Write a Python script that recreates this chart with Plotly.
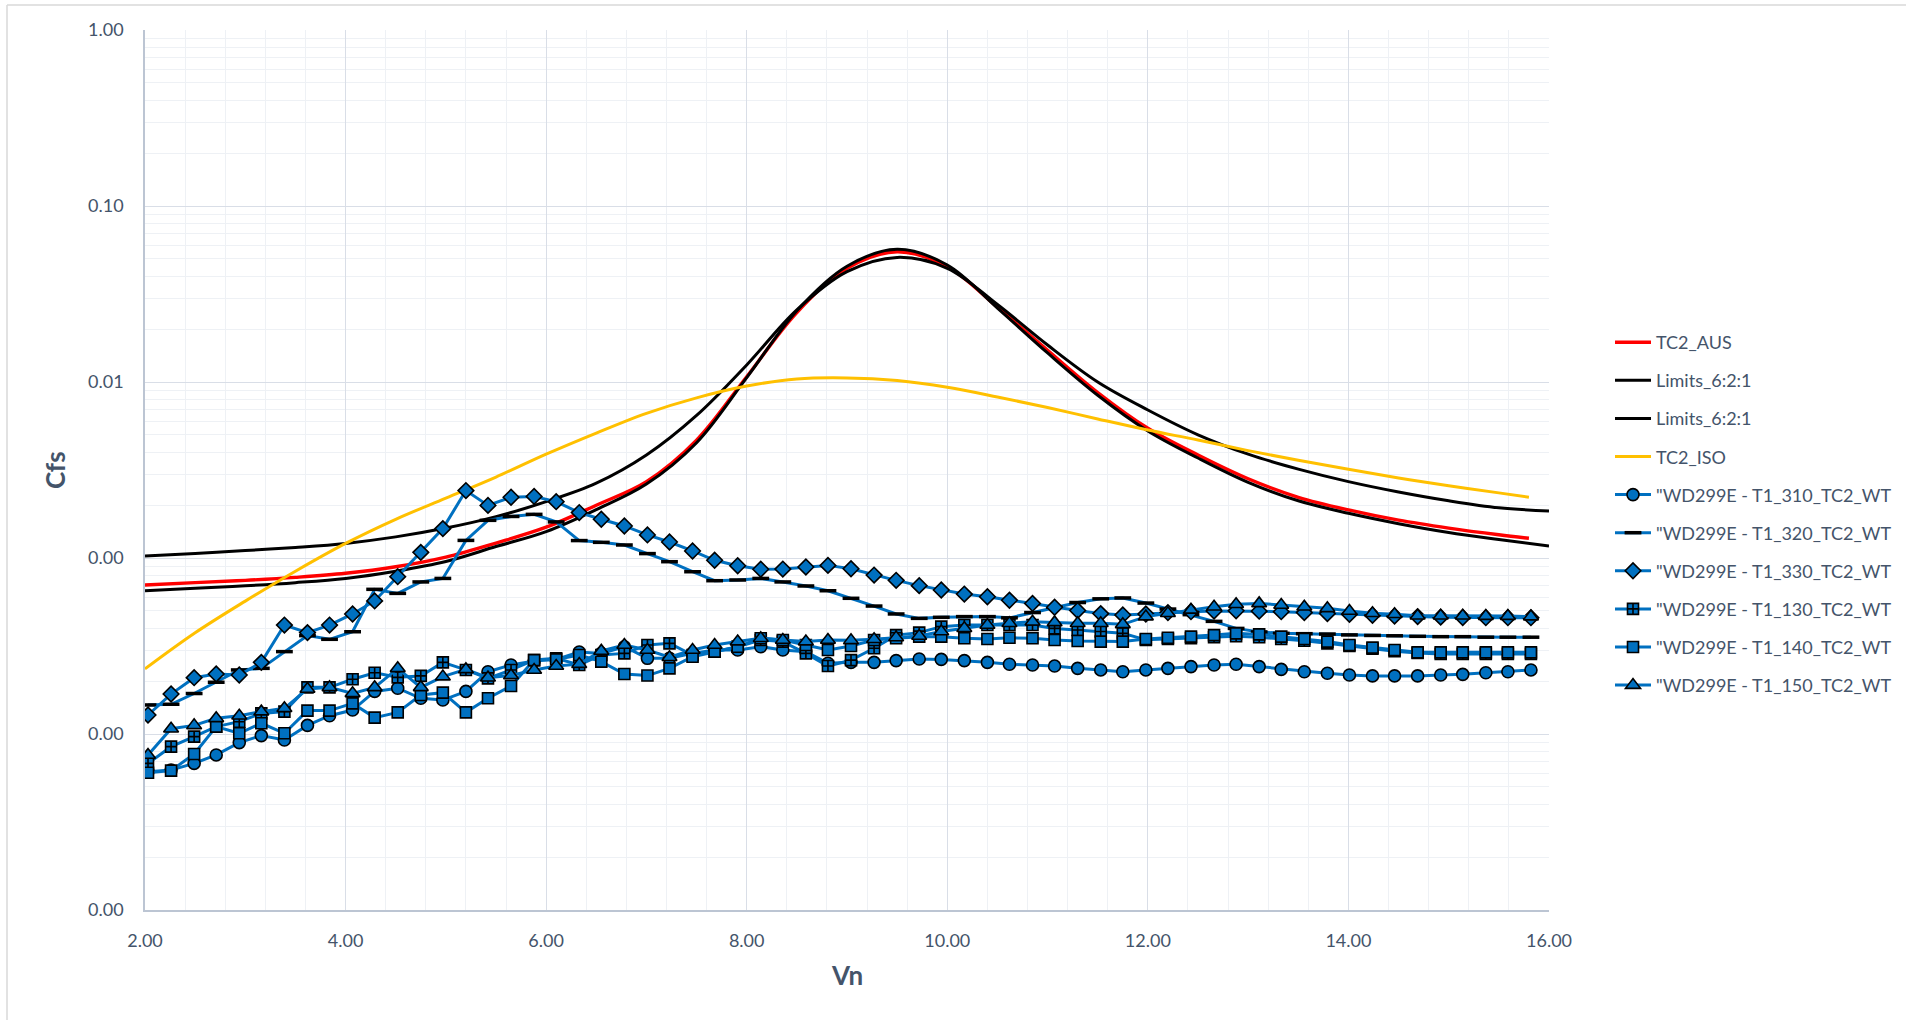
import plotly.graph_objects as go

# ---------------- data (Cfs given as log10) ----------------
curve_vn = [2.0, 2.5, 3.0, 3.5, 4.0, 4.5, 5.0, 5.5, 6.0, 6.5, 7.0, 7.5, 8.0, 8.5, 9.0,
            9.5, 10.0, 10.5, 11.0, 11.5, 12.0, 12.5, 13.0, 13.5, 14.0, 14.5, 15.0, 15.5, 15.8]
limits_vn = [2.0, 2.5, 3.0, 3.5, 4.0, 4.5, 5.0, 5.5, 6.0, 6.5, 7.0, 7.5, 8.0, 8.5, 9.0,
             9.5, 10.0, 10.5, 11.0, 11.5, 12.0, 12.5, 13.0, 13.5, 14.0, 14.5, 15.0, 15.5, 16.0]

tc2_aus_log = [-3.153, -3.14, -3.127, -3.11, -3.087, -3.05, -2.995, -2.915, -2.825, -2.70,
               -2.566, -2.33, -1.970, -1.605, -1.354, -1.260, -1.345, -1.575, -1.82, -2.06,
               -2.263, -2.415, -2.55, -2.655, -2.727, -2.785, -2.83, -2.868, -2.888]
limits_a_log = [-2.989, -2.975, -2.958, -2.94, -2.917, -2.88, -2.83, -2.765, -2.68, -2.575,
                -2.415, -2.19, -1.903, -1.59, -1.373, -1.292, -1.354, -1.56, -1.79, -2.00,
                -2.159, -2.30, -2.41, -2.495, -2.566, -2.625, -2.675, -2.715, -2.733]
limits_b_log = [-3.186, -3.172, -3.158, -3.14, -3.116, -3.075, -3.02, -2.935, -2.85, -2.725,
                -2.58, -2.345, -1.975, -1.595, -1.342, -1.246, -1.335, -1.58, -1.835, -2.075,
                -2.278, -2.432, -2.57, -2.675, -2.746, -2.805, -2.855, -2.895, -2.932]
tc2_iso_log = [-3.630, -3.425, -3.245, -3.075, -2.917, -2.78, -2.66, -2.54, -2.41, -2.29,
               -2.178, -2.09, -2.023, -1.983, -1.977, -1.992, -2.030, -2.085, -2.145, -2.21,
               -2.273, -2.33, -2.39, -2.445, -2.496, -2.545, -2.59, -2.63, -2.655]

wt_vn = [2.03, 2.26, 2.49, 2.71, 2.94, 3.16, 3.39, 3.62, 3.84, 4.07, 4.29, 4.52, 4.75, 4.97,
         5.20, 5.42, 5.65, 5.88, 6.10, 6.33, 6.55, 6.78, 7.01, 7.23, 7.46, 7.68, 7.91, 8.14,
         8.36, 8.59, 8.81, 9.04, 9.27, 9.49, 9.72, 9.94, 10.17, 10.40, 10.62, 10.85, 11.07,
         11.30, 11.53, 11.75, 11.98, 12.20, 12.43, 12.66, 12.88, 13.11, 13.33, 13.56, 13.79,
         14.01, 14.24, 14.46, 14.69, 14.92, 15.14, 15.37, 15.59, 15.82]

wt_310_log = [-4.214, -4.205, -4.167, -4.119, -4.049, -4.009, -4.034, -3.951, -3.896, -3.864,
              -3.758, -3.74, -3.797, -3.807, -3.758, -3.646, -3.608, -3.585, -3.576, -3.534,
              -3.542, -3.504, -3.570, -3.570, -3.542, -3.523, -3.523, -3.504, -3.523, -3.532,
              -3.598, -3.593, -3.593, -3.583, -3.574, -3.576, -3.583, -3.593, -3.604, -3.608,
              -3.614, -3.627, -3.636, -3.646, -3.636, -3.627, -3.617, -3.608, -3.604, -3.617,
              -3.633, -3.646, -3.655, -3.665, -3.670, -3.670, -3.670, -3.665, -3.661, -3.652,
              -3.646, -3.636]
wt_320_log = [-3.835, -3.831, -3.770, -3.706, -3.636, -3.627, -3.532, -3.441, -3.462, -3.419,
              -3.178, -3.201, -3.136, -3.116, -2.900, -2.786, -2.764, -2.752, -2.795, -2.901,
              -2.911, -2.926, -2.975, -3.021, -3.078, -3.129, -3.125, -3.116, -3.136, -3.159,
              -3.186, -3.229, -3.273, -3.318, -3.343, -3.337, -3.333, -3.333, -3.34, -3.31,
              -3.28, -3.253, -3.232, -3.227, -3.256, -3.29, -3.322, -3.36, -3.40, -3.42,
              -3.428, -3.43, -3.432, -3.437, -3.44, -3.442, -3.445, -3.447, -3.447, -3.45,
              -3.45, -3.45]
wt_330_log = [-3.892, -3.773, -3.680, -3.659, -3.665, -3.593, -3.381, -3.424, -3.381, -3.318,
              -3.244, -3.106, -2.968, -2.833, -2.617, -2.701, -2.655, -2.650, -2.680, -2.742,
              -2.780, -2.818, -2.869, -2.909, -2.960, -3.013, -3.044, -3.064, -3.063, -3.051,
              -3.042, -3.061, -3.097, -3.127, -3.157, -3.182, -3.205, -3.220, -3.240, -3.258,
              -3.280, -3.298, -3.316, -3.324, -3.318, -3.31, -3.305, -3.301, -3.30, -3.302,
              -3.305, -3.31, -3.316, -3.32, -3.325, -3.33, -3.333, -3.336, -3.338, -3.339,
              -3.339, -3.339]
wt_130_log = [-4.167, -4.072, -4.015, -3.958, -3.930, -3.883, -3.873, -3.735, -3.735, -3.689,
              -3.652, -3.678, -3.670, -3.593, -3.636, -3.684, -3.636, -3.580, -3.570, -3.608,
              -3.551, -3.542, -3.494, -3.485, -3.551, -3.532, -3.504, -3.466, -3.475, -3.542,
              -3.614, -3.580, -3.513, -3.438, -3.424, -3.390, -3.381, -3.381, -3.381, -3.381,
              -3.40, -3.409, -3.418, -3.428, -3.465, -3.46, -3.455, -3.45, -3.445, -3.45,
              -3.46, -3.47, -3.485, -3.50, -3.515, -3.53, -3.54, -3.545, -3.545, -3.545,
              -3.545, -3.545]
wt_140_log = [-4.220, -4.208, -4.114, -3.958, -3.996, -3.939, -3.996, -3.867, -3.867, -3.826,
              -3.907, -3.877, -3.778, -3.765, -3.877, -3.797, -3.727, -3.580, -3.576, -3.551,
              -3.589, -3.659, -3.668, -3.627, -3.561, -3.532, -3.504, -3.456, -3.466, -3.494,
              -3.523, -3.50, -3.466, -3.456, -3.447, -3.447, -3.456, -3.46, -3.453, -3.456,
              -3.466, -3.472, -3.475, -3.475, -3.460, -3.453, -3.447, -3.438, -3.428, -3.434,
              -3.447, -3.460, -3.475, -3.494, -3.509, -3.523, -3.536, -3.536, -3.536, -3.536,
              -3.536, -3.536]
wt_150_log = [-4.119, -3.970, -3.951, -3.911, -3.896, -3.873, -3.854, -3.744, -3.735, -3.769,
              -3.735, -3.627, -3.735, -3.674, -3.633, -3.680, -3.667, -3.636, -3.614, -3.603,
              -3.528, -3.494, -3.523, -3.564, -3.523, -3.494, -3.475, -3.456, -3.466, -3.475,
              -3.466, -3.468, -3.462, -3.452, -3.443, -3.418, -3.399, -3.381, -3.371, -3.362,
              -3.366, -3.371, -3.371, -3.377, -3.333, -3.314, -3.295, -3.277, -3.263, -3.258,
              -3.267, -3.277, -3.286, -3.301, -3.314, -3.320, -3.328, -3.328, -3.328, -3.330,
              -3.330, -3.333]

y_tick_vals = [1e-5, 1e-4, 1e-3, 1e-2, 1e-1, 1]
y_tick_text = ["0.00", "0.00", "0.00", "0.01", "0.10", "1.00"]
x_tick_vals = [2, 4, 6, 8, 10, 12, 14, 16]

# ---------------- styling ----------------
TEXT = "#44546A"
FONT = "Lato"
BLUE = "#0070C0"


def to_cfs(logs):
    return [10 ** v for v in logs]


fig = go.Figure()

curves = [
    ("TC2_AUS", curve_vn, tc2_aus_log, "#FF0000", 3.4),
    ("Limits_6:2:1", limits_vn, limits_a_log, "#000000", 3.0),
    ("Limits_6:2:1", limits_vn, limits_b_log, "#000000", 3.0),
    ("TC2_ISO", curve_vn, tc2_iso_log, "#FFC000", 3.0),
]
for i, (name, xs, ys, col, w) in enumerate(curves):
    fig.add_trace(go.Scatter(
        x=xs, y=to_cfs(ys), name=name, mode="lines", legendgroup=f"g{i}",
        line=dict(color=col, width=w, shape="spline", smoothing=1.0),
    ))

wt = [
    ('"WD299E - T1_310_TC2_WT', wt_310_log, "circle", 12, dict(color="black", width=1.6), BLUE),
    ('"WD299E - T1_320_TC2_WT', wt_320_log, "line-ew", 12, dict(color="black", width=3.5), BLUE),
    ('"WD299E - T1_330_TC2_WT', wt_330_log, "diamond", 12, dict(color="black", width=1.6), BLUE),
    ('"WD299E - T1_130_TC2_WT', wt_130_log, "square-cross", 11, dict(color="black", width=1.6), BLUE),
    ('"WD299E - T1_140_TC2_WT', wt_140_log, "square", 11, dict(color="black", width=1.6), BLUE),
    ('"WD299E - T1_150_TC2_WT', wt_150_log, "triangle-up", 13, dict(color="black", width=1.6), BLUE),
]
for j, (name, ys, sym, size, mline, fill) in enumerate(wt):
    fig.add_trace(go.Scatter(
        x=wt_vn, y=to_cfs(ys), name=name, mode="lines+markers", legendgroup=f"w{j}",
        line=dict(color=BLUE, width=3.0),
        marker=dict(symbol=sym, size=size, color=fill, line=mline),
    ))

W, H = 1906, 1020
L, R, T, B = 145, 1906 - 1549, 30, 110
pw, ph = W - L - R, H - T - B


def px_x(px):
    return (px - L) / pw


def px_y(py):
    return (H - B - py) / ph


fig.update_layout(
    width=W, height=H,
    margin=dict(l=L, r=R, t=T, b=B, autoexpand=False),
    paper_bgcolor="white", plot_bgcolor="white",
    font=dict(family=FONT, size=18, color=TEXT),
    showlegend=True,
    legend=dict(
        x=px_x(1610), y=px_y(324), xanchor="left", yanchor="top",
        font=dict(family=FONT, size=18, color=TEXT),
        tracegroupgap=11.7, traceorder="grouped", bgcolor="rgba(0,0,0,0)",
        itemwidth=36,
    ),
    xaxis=dict(
        range=[2, 16], tickvals=x_tick_vals, tickformat=".2f",
        showgrid=True, gridcolor="#D9DEE7", gridwidth=1.3,
        minor=dict(dtick=0.4, showgrid=True, gridcolor="#EEF1F5", gridwidth=1),
        showline=True, linecolor="#BCC5D3", linewidth=1.5,
        ticks="", ticklabelstandoff=14, zeroline=False,
        tickfont=dict(family=FONT, size=18, color=TEXT),
    ),
    yaxis=dict(
        type="log", range=[-5, 0], tickmode="array",
        tickvals=y_tick_vals, ticktext=y_tick_text,
        showgrid=True, gridcolor="#D9DEE7", gridwidth=1.3,
        minor=dict(dtick="D1", showgrid=True, gridcolor="#EEF1F5", gridwidth=1),
        showline=True, linecolor="#BCC5D3", linewidth=1.5,
        ticks="", ticklabelstandoff=16, zeroline=False,
        tickfont=dict(family=FONT, size=18, color=TEXT),
    ),
    annotations=[
        dict(text="<b>Cfs</b>", x=px_x(55), y=px_y(470), xref="paper", yref="paper",
             xanchor="center", yanchor="middle",
             showarrow=False, textangle=-90, font=dict(family=FONT, size=26, color=TEXT)),
        dict(text="<b>Vn</b>", x=px_x(847), y=px_y(975), xref="paper", yref="paper",
             xanchor="center", yanchor="middle",
             showarrow=False, font=dict(family=FONT, size=26, color=TEXT)),
    ],
    shapes=[
        dict(type="line", xref="paper", yref="paper", x0=px_x(7), x1=px_x(7),
             y0=px_y(5), y1=px_y(1030), line=dict(color="#D9D9D9", width=1.5)),
        dict(type="line", xref="paper", yref="paper", x0=px_x(7), x1=px_x(1920),
             y0=px_y(5), y1=px_y(5), line=dict(color="#D9D9D9", width=1.5)),
    ],
)

fig.write_html("out.html", config={"displayModeBar": False},
               post_script="document.body.style.margin='0';")
